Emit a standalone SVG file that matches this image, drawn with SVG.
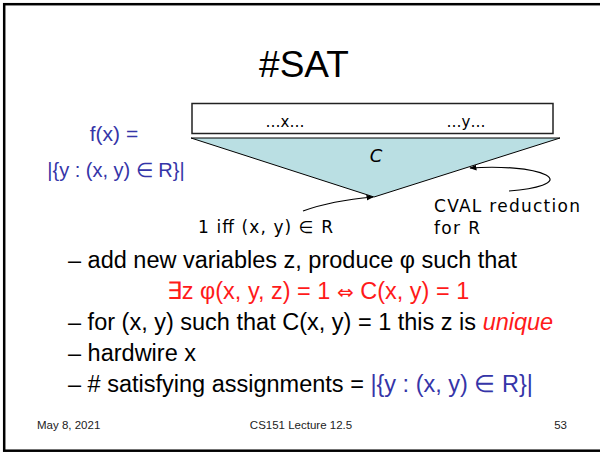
<svg xmlns="http://www.w3.org/2000/svg" width="600" height="452" viewBox="0 0 600 452">
<defs>
<style>
.s{font-family:"Liberation Sans",Arial,sans-serif;fill:#000}
.c{font-family:"DejaVu Sans","Liberation Sans",sans-serif;fill:#000}
.b{fill:#3535A8}
.r{fill:#FF1A1A}
.bul{font-size:23.5px}
.foot{font-size:11.5px;fill:#222}
.ln{fill:none;stroke:#000;stroke-width:1.2}
</style>
<marker id="ah" viewBox="0 0 10 10" refX="9" refY="5" markerWidth="6" markerHeight="6" orient="auto">
<path d="M0,1 L10,5 L0,9 z" fill="#000"/>
</marker>
</defs>
<rect x="0" y="0" width="600" height="452" fill="#fff"/>
<rect x="4.2" y="4.2" width="620" height="446.5" fill="none" stroke="#000" stroke-width="2.5"/>

<g id="title"><text class="s" x="304" y="77" font-size="37" text-anchor="middle">#SAT</text></g>

<g id="fx">
<text class="s b" x="114" y="141" font-size="21" text-anchor="middle">f(x) =</text>
<text class="s b" x="116" y="177" font-size="20" text-anchor="middle">|{y : (x, y) ∈ R}|</text>
</g>

<g id="inputs">
<rect x="192" y="103.5" width="361" height="30" fill="#fff" stroke="#222" stroke-width="1.5"/>
<text class="c" x="285" y="127" font-size="15" text-anchor="middle">…x…</text>
<text class="c" x="466" y="127" font-size="15" text-anchor="middle">…y…</text>
</g>

<g id="circuit">
<polygon points="191,138 560,138 374,197" fill="#BADFE3" stroke="#000" stroke-width="1"/>
<text class="c" x="376" y="162" font-size="18" font-style="italic" text-anchor="middle">C</text>
</g>

<g id="label-out"><text class="c" x="198" y="233" font-size="17" textLength="135" lengthAdjust="spacing">1 iff (x, y) ∈ R</text></g>
<g id="label-cval">
<text class="c" x="434" y="212" font-size="17" textLength="146" lengthAdjust="spacing">CVAL reduction</text>
<text class="c" x="434" y="234" font-size="17" textLength="46" lengthAdjust="spacing">for R</text>
</g>

<g id="connectors">
<path class="ln" d="M303,211 C325,203 350,199 373,197" marker-end="url(#ah)"/>
<path class="ln" d="M509,191 C535,189 560,183 546,175 C532,168 500,166 470,168" marker-end="url(#ah)"/>
</g>

<g id="bullets" class="bul">
<text class="s" x="68" y="268">– add new variables z, produce φ such that</text>
<text class="s r" x="318" y="299" text-anchor="middle">∃z φ(x, y, z) = 1 <tspan font-family="'DejaVu Sans',sans-serif" font-size="20">⇔</tspan> C(x, y) = 1</text>
<text class="s" x="68" y="330">– for (x, y) such that C(x, y) = 1 this z is <tspan class="r" font-style="italic">unique</tspan></text>
<text class="s" x="68" y="361">– hardwire x</text>
<text class="s" x="68" y="392">– # satisfying assignments = <tspan class="b">|{y : (x, y) ∈ R}|</tspan></text>
</g>

<g id="footer">
<text class="s foot" x="37" y="429">May 8, 2021</text>
<text class="s foot" x="301" y="429" text-anchor="middle">CS151 Lecture 12.5</text>
<text class="s foot" x="567" y="429" text-anchor="end">53</text>
</g>
</svg>
